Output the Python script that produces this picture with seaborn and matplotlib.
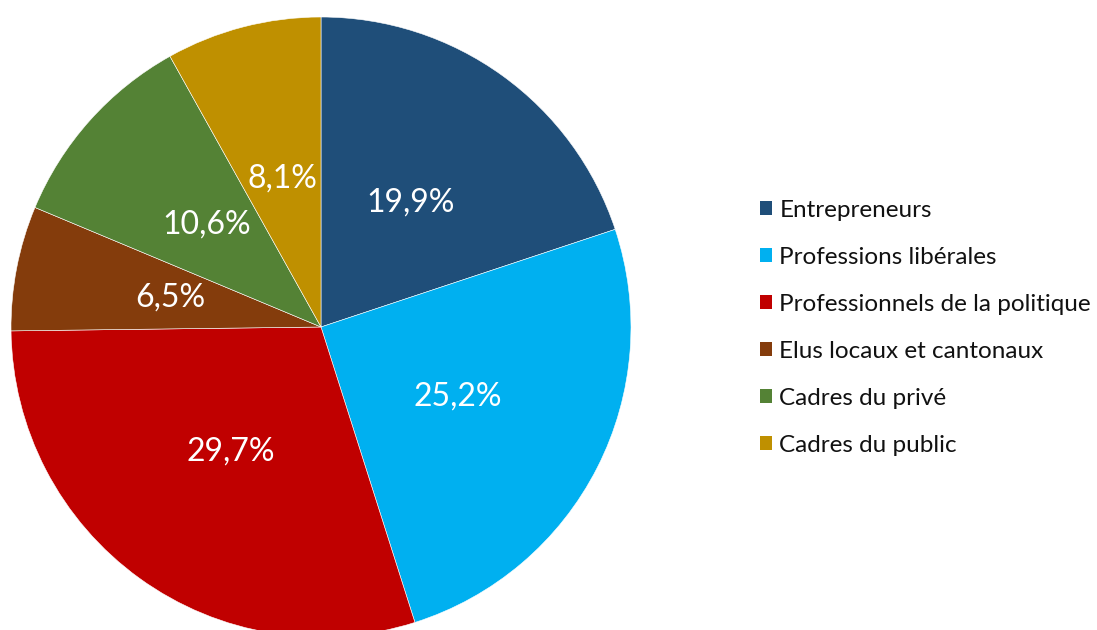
import matplotlib
matplotlib.use("Agg")
import matplotlib.pyplot as plt
import seaborn as sns
from matplotlib.patches import Patch

categories = ["Entrepreneurs", "Professions libérales", "Professionnels de la politique",
              "Elus locaux et cantonaux", "Cadres du privé", "Cadres du public"]
values = [19.9, 25.2, 29.7, 6.5, 10.6, 8.1]
labels = ["19,9%", "25,2%", "29,7%", "6,5%", "10,6%", "8,1%"]
colors = ["#1F4E79", "#00B0F0", "#C00000", "#843C0C", "#548235", "#BF9000"]

sns.set_theme(style="white")
plt.rcParams['font.family'] = ['Lato', 'DejaVu Sans']

W, H = 1097, 630
fig = plt.figure(figsize=(W / 100, H / 100), dpi=100)
cx, cy, r = 321, 327, 310
ax = fig.add_axes([(cx - r) / W, (H - cy - r) / H, 2 * r / W, 2 * r / H])
wedges, texts = ax.pie(values, colors=colors, startangle=90, counterclock=False,
                       radius=1, labels=labels, labeldistance=0.495,
                       wedgeprops=dict(linewidth=0.4, edgecolor="white"),
                       textprops=dict(color="white", fontsize=23, ha="center", va="center"))
for t in texts:
    t.set_ha("center")
    t.set_va("center")
ax.set_xlim(-1, 1)
ax.set_ylim(-1, 1)
ax.set_aspect("equal")
ax.axis("off")

handles = [Patch(facecolor=c, edgecolor="none") for c in colors]
leg = fig.legend(handles, categories, loc="upper left", bbox_to_anchor=(760 / W, 1 - 200 / H),
                 frameon=False, fontsize=17.5, handlelength=0.5, handleheight=0.5,
                 handletextpad=0.3, labelspacing=1.07, borderpad=0, borderaxespad=0)
for t in leg.get_texts():
    t.set_color("#111111")

fig.savefig("out.png", dpi=100, facecolor="white")
